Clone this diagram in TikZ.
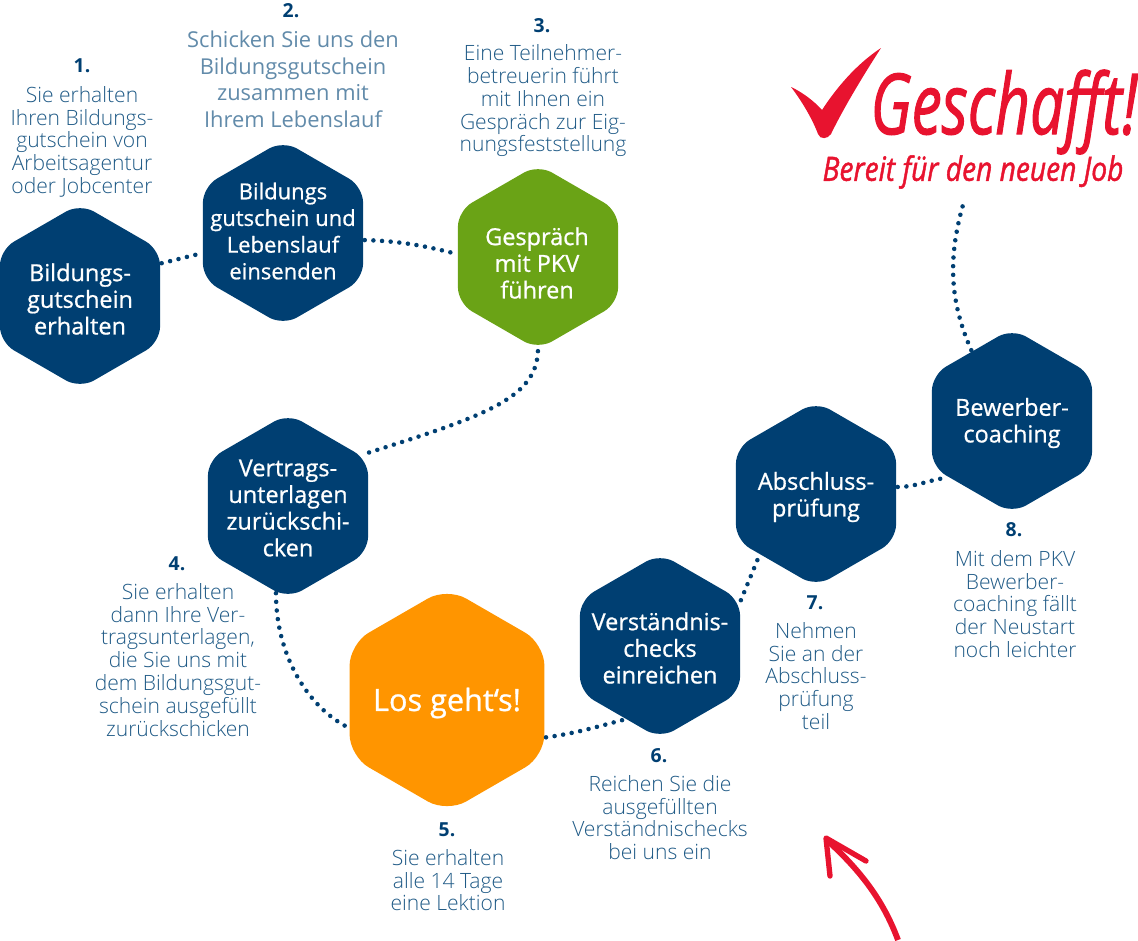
\documentclass[tikz,border=0pt]{standalone}
\usepackage{fontspec}
\usetikzlibrary{shapes.geometric}
\newfontfamily\opensans{Open Sans}
\newfontfamily\openlight{Open Sans Light}
\newfontfamily\opensemi[FakeBold=0.8]{Open Sans}
\newfontfamily\brushfont[FakeBold=1.5]{Open Sans}
\definecolor{pkvblue}{HTML}{003F72}
\definecolor{pkvtext}{HTML}{1F5A86}
\definecolor{pkvgreen}{HTML}{6AA316}
\definecolor{pkvorange}{HTML}{FF9500}
\definecolor{pkvred}{HTML}{E8132F}
\tikzset{
  hexa/.style={shape=regular polygon,regular polygon sides=6,shape border rotate=30,
    minimum size=185*0.75pt,inner sep=0pt,fill=#1,rounded corners=12pt},
  hexa/.default=pkvblue,
  hexlabel/.style={text=white,align=center,font=\opensemi\fontsize{17.6}{20}\selectfont},
  stepnum/.style={text=pkvblue,font=\opensans\bfseries\fontsize{14.5}{16}\selectfont},
  steptext/.style={text=pkvtext,align=center,anchor=north,inner sep=0pt,
    font=\openlight\fontsize{15.8}{17.1}\selectfont},
  pathdots/.style={pkvblue,line width=3.4pt,line cap=round,dash pattern=on 0pt off 6.5pt,
    shorten <=1pt,shorten >=1pt},
}
\begin{document}
\begin{tikzpicture}[x=0.75pt,y=-0.75pt]
  \useasboundingbox (0,0) rectangle (1138,940);

  \node[hexa] (erhalten) at (80,296) {};
  \node[hexlabel] (erhaltenlabel) at (80,299) {Bildungs-\\gutschein\\erhalten};
  \node[hexa] (einsenden) at (283,233) {};
  \node[hexlabel,font=\opensemi\fontsize{16.5}{20}\selectfont] (einsendenlabel) at (283,231) {Bildungs\\gutschein und\\Lebenslauf\\einsenden};
  \node[hexa=pkvgreen] (gespraech) at (538,257) {};
  \node[hexlabel] (gespraechlabel) at (537,263) {Gespräch\\mit PKV\\führen};
  \node[hexa] (vertrag) at (288,506) {};
  \node[hexlabel] (vertraglabel) at (288,508) {Vertrags-\\unterlagen\\zurückschi-\\cken};
  \node[hexa=pkvorange,minimum size=225*0.75pt,rounded corners=16.5pt] (start) at (447,700) {};
  \node[hexlabel,font=\opensemi\fontsize{23}{27}\selectfont] (startlabel) at (447,703) {Los geht‘s!};
  \node[hexa] (checks) at (660,646) {};
  \node[hexlabel] (checkslabel) at (660,648) {Verständnis-\\checks\\einreichen};
  \node[hexa] (pruefung) at (816,494) {};
  \node[hexlabel] (pruefunglabel) at (816,497) {Abschluss-\\prüfung};
  \node[hexa] (coaching) at (1012,421) {};
  \node[hexlabel] (coachinglabel) at (1012,423) {Bewerber-\\coaching};

  \coordinate (job) at (965,198);
  \draw[pathdots] (erhalten.22) -- (einsenden.194);
  \draw[pathdots] (einsenden.-5) .. controls +(35,1) and +(-35,-9) .. (gespraech.178);
  \draw[pathdots] (gespraech.-90) .. controls +(-2,50) and +(120,-38) .. (vertrag.35);
  \draw[pathdots] (vertrag.-98) .. controls +(0,65) and +(-40,-20) .. (start.196);
  \draw[pathdots] (start.-21) .. controls +(30,-4) and +(-30,8) .. (checks.-115);
  \draw[pathdots] (checks.29) -- (pruefung.227);
  \draw[pathdots] (pruefung.5) .. controls +(20,0) and +(-20,2) .. (coaching.222);
  \draw[pathdots] (coaching.120) .. controls +(-22,-50) and +(-18,60) .. (job);

  \node[stepnum] (num1) at (82,66) {1.};
  \node[steptext] (text1) at (82,86) {Sie erhalten\\Ihren Bildungs-\\gutschein von\\Arbeitsagentur\\oder Jobcenter};
  \node[stepnum] (num2) at (291,11) {2.};
  \node[steptext,text=pkvtext!70,font=\opensans\fontsize{16.4}{19.9}\selectfont] (text2) at (293,31) {Schicken Sie uns den\\Bildungsgutschein\\zusammen mit\\Ihrem Lebenslauf};
  \node[stepnum] (num3) at (542,26) {3.};
  \node[steptext] (text3) at (543,44.5) {Eine Teilnehmer-\\betreuerin führt\\mit Ihnen ein\\Gespräch zur Eig-\\nungsfeststellung};
  \node[stepnum] (num4) at (177,564) {4.};
  \node[steptext] (text4) at (178,583) {Sie erhalten\\dann Ihre Ver-\\tragsunterlagen,\\die Sie uns mit\\dem Bildungsgut-\\schein ausgefüllt\\zurückschicken};
  \node[stepnum] (num5) at (447,830) {5.};
  \node[steptext] (text5) at (448,849) {Sie erhalten\\alle 14 Tage\\eine Lektion};
  \node[stepnum] (num6) at (659,756) {6.};
  \node[steptext] (text6) at (660,775) {Reichen Sie die\\ausgefüllten\\Verständnischecks\\bei uns ein};
  \node[stepnum] (num7) at (815,603) {7.};
  \node[steptext] (text7) at (816,622) {Nehmen\\Sie an der\\Abschluss-\\prüfung\\teil};
  \node[stepnum] (num8) at (1014,530) {8.};
  \node[steptext] (text8) at (1015,550) {Mit dem PKV\\Bewerber-\\coaching fällt\\der Neustart\\noch leichter};

  % check mark and arrow
  \fill[pkvred] (791,87) .. controls (802,92) and (814,101) .. (822,110)
    .. controls (835,90) and (855,65) .. (881,48)
    .. controls (868,68) and (845,105) .. (831,134)
    .. controls (828,139) and (820,140) .. (818,134)
    .. controls (812,118) and (801,100) .. (791,87) -- cycle;
  \node[pkvred,inner sep=0pt,font=\brushfont\itshape\fontsize{63}{70}\selectfont,xscale=0.72,transform shape] (geschafft) at (1004,112) {Geschafft!};
  \node[pkvred,inner sep=0pt,font=\brushfont\itshape\fontsize{25}{30}\selectfont,xscale=0.845,transform shape] (bereit) at (973,172) {Bereit für den neuen Job};
  \draw[pkvred,line width=4pt,line cap=round,line join=round]
    (866,861) -- (826,838) -- (830,876);
  \draw[pkvred,line width=4.4pt] (898,940) .. controls (885,905) and (865,875) .. (829,842);
\end{tikzpicture}
\end{document}
